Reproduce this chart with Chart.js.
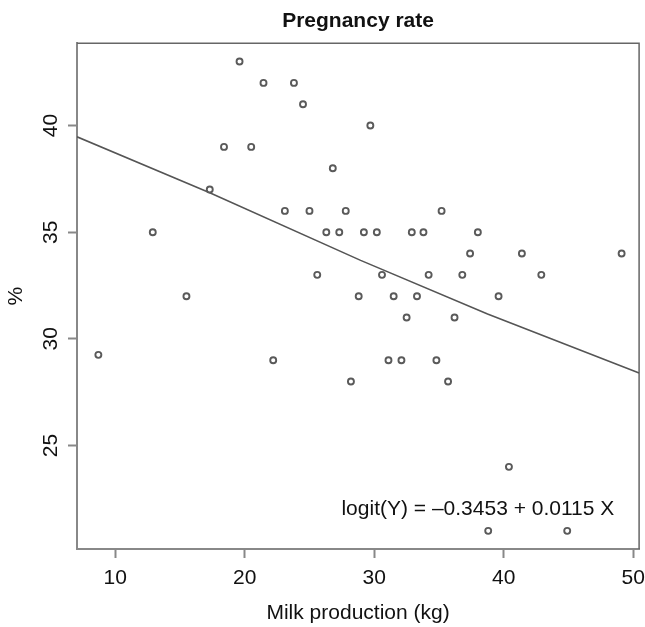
<!DOCTYPE html>
<html>
<head>
<meta charset="utf-8">
<title>Pregnancy rate</title>
<script src="https://cdn.jsdelivr.net/npm/chart.js@4.4.1/dist/chart.umd.min.js"></script>
<style>
  html, body { margin: 0; padding: 0; background: #fff; }
  #wrap { width: 645px; height: 627px; }
</style>
</head>
<body>
<div id="wrap"><canvas id="chart" width="645" height="627"></canvas></div>
<script>
/* =========================
   data
========================= */
const milkKg = [
  8.7, 12.9, 15.5, 17.3, 18.4, 19.6, 20.5, 21.45, 22.2, 23.1,
  23.8, 24.5, 25.0, 25.6, 26.3, 26.8, 27.3, 27.8, 28.2, 28.8,
  29.2, 29.7, 30.2, 30.6, 31.1, 31.5, 32.1, 32.5, 32.9, 33.3,
  33.8, 34.2, 34.8, 35.2, 35.7, 36.2, 36.8, 37.4, 38.0, 38.8,
  39.6, 40.4, 41.4, 42.9, 44.9, 49.1
];
const pregRate = [
  29.25, 35, 32, 37, 39, 43, 39, 42, 29, 36,
  42, 41, 36, 33, 35, 38, 35, 36, 28, 32,
  35, 40, 35, 33, 29, 32, 29, 31, 35, 32,
  35, 33, 29, 36, 28, 31, 33, 34, 35, 21,
  32, 24, 34, 33, 21, 34
];

// fitted curve, read at a few x positions
const fitX = [7.05, 17.3, 28.95, 38.75, 50.45];
const fitY = [39.47, 36.85, 33.68, 31.17, 28.4];

const xTicks = [10, 20, 30, 40, 50];
const yTicks = [25, 30, 35, 40];

const equationText = "logit(Y) = \u20130.3453 + 0.0115 X";
const equationAt = [38.0, 22.0];

const FONT = '"Liberation Sans", Arial, Helvetica, sans-serif';

/* =========================
   plugins
========================= */
const framePlugin = {
  id: 'frame',
  beforeDatasetsDraw(chart) {
    const { ctx, chartArea: a } = chart;
    ctx.save();
    ctx.strokeStyle = '#666';
    ctx.lineWidth = 1.5;
    ctx.beginPath();
    ctx.moveTo(a.left, a.top);
    ctx.lineTo(a.right, a.top);
    ctx.lineTo(a.right, a.bottom);
    ctx.stroke();
    ctx.restore();
  }
};

const equationPlugin = {
  id: 'equation',
  afterDatasetsDraw(chart) {
    const { ctx, scales } = chart;
    const px = scales.x.getPixelForValue(equationAt[0]);
    const py = scales.y.getPixelForValue(equationAt[1]);
    ctx.save();
    ctx.font = '21px ' + FONT;
    ctx.fillStyle = '#111';
    ctx.textAlign = 'center';
    ctx.textBaseline = 'middle';
    ctx.fillText(equationText, px, py);
    ctx.restore();
  }
};

/* =========================
   chart
========================= */
const points = milkKg.map((x, i) => ({ x, y: pregRate[i] }));
const fitLine = fitX.map((x, i) => ({ x, y: fitY[i] }));

new Chart(document.getElementById('chart').getContext('2d'), {
  type: 'scatter',
  data: {
    datasets: [
      {
        label: 'fit',
        data: fitLine,
        showLine: true,
        pointRadius: 0,
        borderColor: '#555',
        borderWidth: 1.6,
        order: 2
      },
      {
        label: 'Pregnancy rate',
        data: points,
        pointStyle: 'circle',
        pointRadius: 3,
        borderWidth: 1.9,
        borderColor: '#5a5a5a',
        backgroundColor: '#fff',
        order: 1
      }
    ]
  },
  options: {
    responsive: false,
    animation: false,
    devicePixelRatio: 1,
    layout: { padding: { left: 0, right: 5, top: 0, bottom: 0 } },
    plugins: {
      legend: { display: false },
      tooltip: { enabled: false },
      title: {
        display: true,
        text: 'Pregnancy rate',
        fullSize: false,
        color: '#111',
        font: { family: FONT, size: 21, weight: 'bold' },
        padding: { top: 9, bottom: 9 }
      }
    },
    scales: {
      x: {
        type: 'linear',
        min: 7.05,
        max: 50.45,
        afterBuildTicks: (s) => { s.ticks = xTicks.map(v => ({ value: v })); },
        afterFit: (s) => { s.height = 78; s.paddingLeft = 0; s.paddingRight = 0; },
        ticks: {
          autoSkip: false,
          maxRotation: 0,
          padding: 8,
          color: '#111',
          font: { family: FONT, size: 21 }
        },
        grid: { drawOnChartArea: false, drawTicks: true, tickLength: 9, tickColor: '#888', tickWidth: 2 },
        border: { display: true, color: '#888', width: 2 },
        title: {
          display: true,
          text: 'Milk production (kg)',
          color: '#111',
          font: { family: FONT, size: 21 },
          padding: { top: 0, bottom: 1 }
        }
      },
      y: {
        type: 'linear',
        min: 20.15,
        max: 43.86,
        afterBuildTicks: (s) => { s.ticks = yTicks.map(v => ({ value: v })); },
        afterFit: (s) => { s.width = 77; s.paddingTop = 0; s.paddingBottom = 0; },
        ticks: {
          minRotation: 90,
          maxRotation: 90,
          crossAlign: 'center',
          padding: 5,
          color: '#111',
          font: { family: FONT, size: 21 }
        },
        grid: { drawOnChartArea: false, drawTicks: true, tickLength: 9, tickColor: '#888', tickWidth: 2 },
        border: { display: true, color: '#888', width: 2 },
        title: {
          display: true,
          text: '%',
          color: '#111',
          font: { family: FONT, size: 21 },
          padding: { top: 4, bottom: 0 }
        }
      }
    }
  },
  plugins: [framePlugin, equationPlugin]
});
</script>
</body>
</html>
